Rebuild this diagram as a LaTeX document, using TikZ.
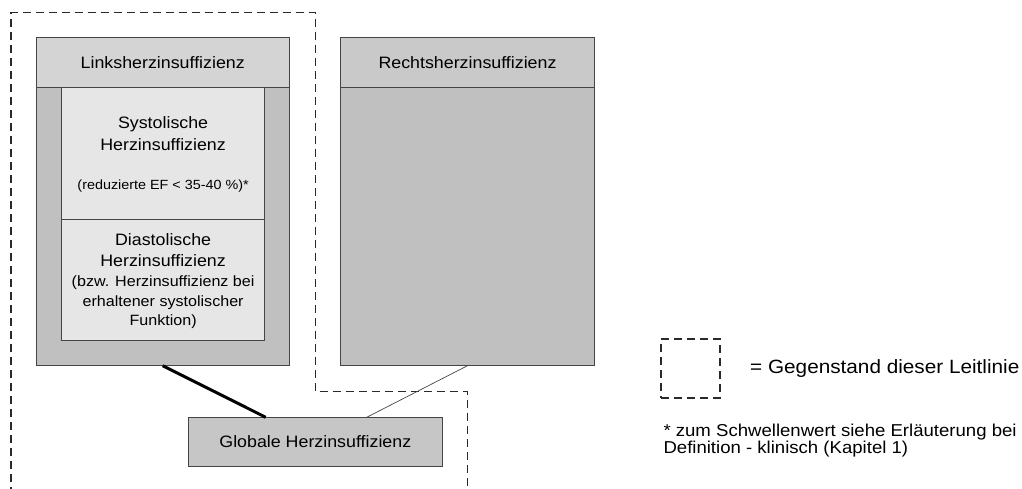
\documentclass[tikz,border=0pt]{standalone}
\usepackage{fontspec}
\setmainfont{Liberation Sans}[FakeStretch=1.08]
\usetikzlibrary{calc}
\definecolor{edgec}{HTML}{454545}
\definecolor{hdrL}{HTML}{D4D4D4}
\definecolor{hdrR}{HTML}{C9C9C9}
\definecolor{bodyc}{HTML}{C0C0C0}
\definecolor{innerc}{HTML}{E6E6E6}
\definecolor{globc}{HTML}{C6C6C6}
\definecolor{guidec}{HTML}{2A2A2A}
\begin{document}
\begin{tikzpicture}[x=1pt,y=-1pt,
  box/.style={draw=edgec, line width=0.9pt, inner sep=0pt, outer sep=0pt, anchor=north west,
    font=\fontsize{16.5}{20}\selectfont, text=black},
  lbl/.style={inner sep=0pt, anchor=base, align=center, text=black},
  guide/.style={draw=guidec, line width=1.3pt, dash pattern=on 8pt off 5pt},
  thickcon/.style={draw=black, line width=3pt},
  thincon/.style={draw=edgec, line width=0.7pt}]
\useasboundingbox (0,0) rectangle (1022,489);
% region of this guideline
\draw[guide] (11,495) -- (11,12.7) -- (315.7,12.7) -- (315.7,391.7) -- (467.7,391.7) -- (467.7,495);
% left heart failure
\node[box, fill=bodyc, minimum width=253.5pt, minimum height=328.4pt] (links) at (36,37.3) {};
\node[box, fill=hdrL, minimum width=253.5pt, minimum height=50.4pt] (linksH) at (36,37.3) {Linksherzinsuffizienz};
\node[box, fill=innerc, minimum width=202.8pt, minimum height=252.3pt] (inner) at (61.7,87.7) {};
\coordinate (divL) at (61.7,219);
\coordinate (divR) at (264.5,219);
\draw[draw=edgec, line width=0.9pt] (divL) -- (divR);
% multi-line nodes: base anchor lies on the last line
\node[lbl, font=\fontsize{16.5}{22}\selectfont] (sysT) at (163.1,150.7) {Systolische\\Herzinsuffizienz};
\node[lbl, font=\fontsize{13.3}{16}\selectfont] (sysP) at (163.1,189.7) {(reduzierte EF < 35-40 \%)*};
\node[lbl, font=\fontsize{16.5}{21}\selectfont] (diaT) at (163.1,266.7) {Diastolische\\Herzinsuffizienz};
\node[lbl, font=\fontsize{14.9}{19.4}\selectfont] (diaP) at (163.1,325.5) {(bzw. Herzinsuffizienz bei\\erhaltener systolischer\\Funktion)};
% right heart failure
\node[box, fill=bodyc, minimum width=253.6pt, minimum height=328.4pt] (rechts) at (340.7,37.3) {};
\node[box, fill=hdrR, minimum width=253.6pt, minimum height=50.4pt] (rechtsH) at (340.7,37.3) {Rechtsherzinsuffizienz};
% global
\node[box, fill=globc, minimum width=254pt, minimum height=49.4pt] (glob) at (188.3,417.3) {Globale Herzinsuffizienz};
% connectors
\draw[thickcon] (links.south) -- ([xshift=-49.6pt]glob.north);
\draw[thincon] (rechts.south) -- ([xshift=51.4pt]glob.north);
% legend
\node[guide, inner sep=0pt, outer sep=0pt, anchor=north west, minimum width=59pt, minimum height=59pt] (legbox) at (661,339) {};
\node[inner sep=0pt, anchor=base west, font=\fontsize{19.2}{22}\selectfont] (legT) at (750,373) {= Gegenstand dieser Leitlinie};
\node[inner sep=0pt, anchor=base west, align=left, font=\fontsize{17.2}{17.5}\selectfont] (foot) at (663.3,453.5) {* zum Schwellenwert siehe Erläuterung bei\\Definition - klinisch (Kapitel 1)};
\end{tikzpicture}
\end{document}
